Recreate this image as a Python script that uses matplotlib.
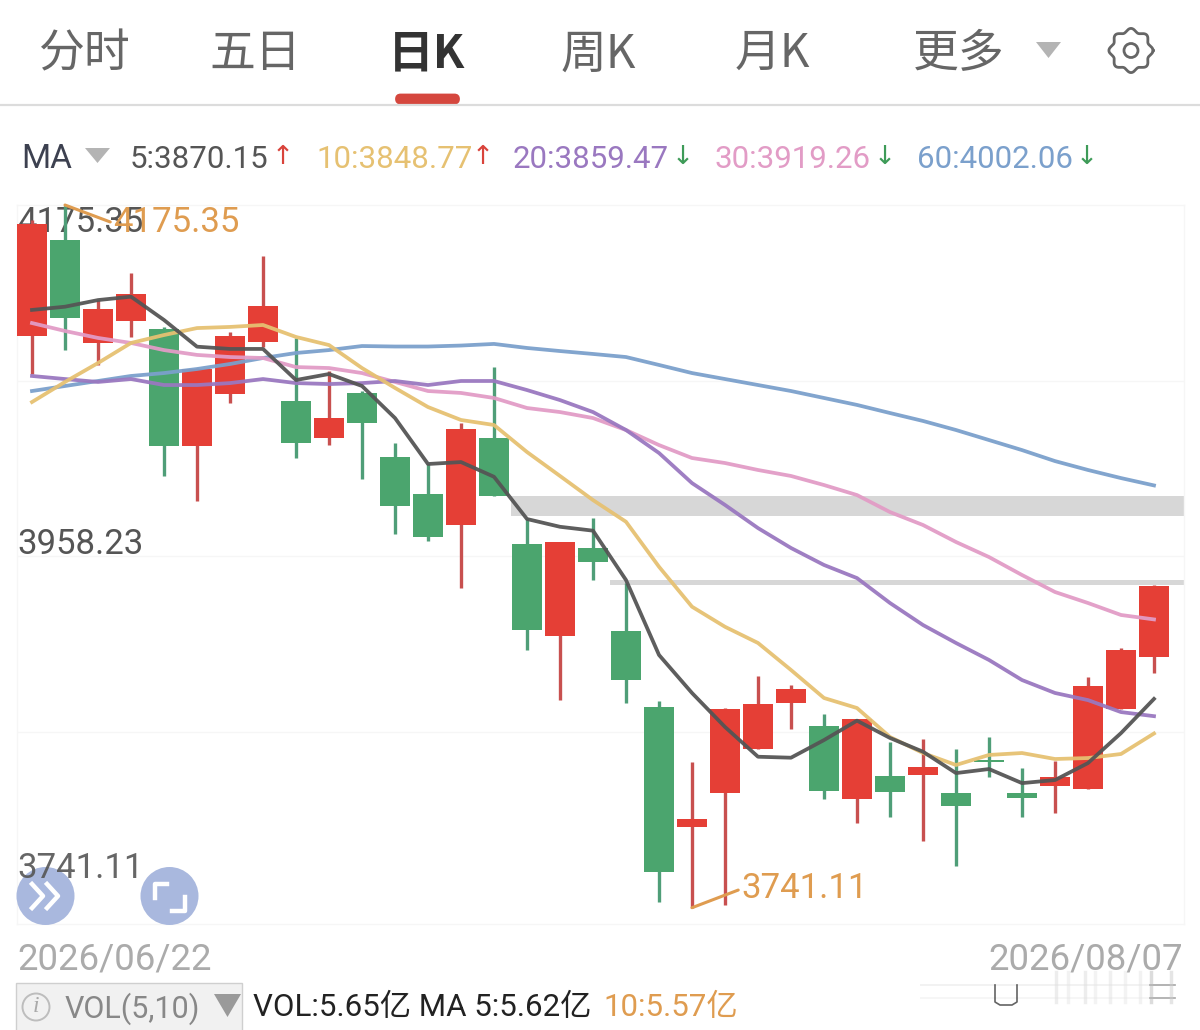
import numpy as np
import matplotlib
matplotlib.use("Agg")
import matplotlib.pyplot as plt
from matplotlib.patches import Rectangle, Polygon, Circle, FancyBboxPatch

# ---- data ----
opens = [4094.6,4153.7,4090.3,4103.9,4098.5,4026.6,4058.7,4090.9,4054.2,4031.5,4059.2,4019.4,3996.8,3977.8,4031.4,
         3965.9,3909.2,3963.4,3912.1,3864.9,3791.0,3812.2,3839.3,3867.8,3853.4,3808.3,3822.5,3823.1,3812.0,3832.4,
         3812.0,3816.5,3814.6,3863.9,3896.2]
closes = [4163.6,4105.7,4110.9,4120.4,4026.6,4074.0,4094.4,4112.9,4028.5,4043.7,4040.8,3989.5,3970.4,4036.9,3995.7,
          3912.9,3967.1,3954.9,3881.8,3763.3,3795.9,3863.9,3867.0,3876.1,3813.4,3857.7,3812.6,3828.0,3804.1,3831.1,
          3808.9,3821.9,3878.1,3900.3,3939.9]
highs = [4166.1,4175.35,4116.6,4133.3,4100.0,4074.6,4097.0,4143.8,4093.2,4072.8,4060.6,4028.1,4015.9,4040.6,4075.1,
         3981.9,3967.1,3981.9,3941.7,3868.8,3831.1,3864.5,3884.1,3878.7,3860.6,3857.7,3843.5,3845.2,3839.0,3846.6,
         3827.2,3831.7,3883.8,3901.6,3940.5]
lows = [4070.9,4085.7,4076.5,4093.8,4007.9,3992.6,4053.0,4087.8,4019.2,4027.2,4006.0,3971.8,3967.9,3938.8,3995.7,
        3900.3,3869.4,3943.8,3867.8,3744.8,3741.11,3742.9,3839.3,3851.7,3808.4,3793.2,3797.3,3782.5,3767.0,3822.0,
        3797.3,3799.4,3814.6,3863.9,3885.9]
ma5 = [4110.5,4112.5,4116.6,4118.7,4104.3,4087.8,4086.4,4086.4,4067.2,4070.9,4063.5,4043.7,4015.3,4016.5,4007.4,
       3981.3,3976.5,3974.1,3943.6,3897.3,3873.8,3852.8,3834.4,3833.8,3844.7,3856.7,3846.0,3837.5,3824.3,3826.8,
       3818.1,3820.0,3830.5,3849.0,3870.15]
ma10 = [4053.6,4066.0,4077.7,4090.1,4095.0,4099.3,4100.0,4101.2,4093.8,4088.8,4074.6,4062.3,4050.5,4042.5,4039.4,
        4022.7,4007.9,3993.0,3979.6,3951.8,3927.1,3914.7,3904.7,3888.0,3870.7,3864.5,3846.6,3836.7,3829.3,3835.5,
        3836.7,3833.0,3833.6,3836.1,3848.77]
ma20 = [4069.7,4067.8,4066.0,4067.8,4064.1,4064.1,4065.3,4067.8,4065.3,4064.7,4065.3,4066.6,4064.1,4066.6,4066.6,
        4061.0,4054.8,4047.4,4036.3,4022.1,4003.5,3990.0,3975.7,3963.4,3952.9,3944.8,3929.4,3915.8,3904.7,3894.2,
        3881.8,3873.8,3869.4,3862.0,3859.47]
ma30 = [4102.4,4097.5,4093.2,4090.1,4085.7,4082.7,4081.4,4080.8,4075.2,4074.6,4071.5,4066.0,4060.4,4059.2,4056.1,
        4049.9,4047.4,4043.7,4036.3,4027.0,4019.0,4015.9,4011.6,4007.9,4002.3,3996.1,3985.6,3977.6,3967.1,3957.8,
        3946.7,3936.2,3929.4,3922.0,3919.26]
ma60 = [4060.4,4063.5,4066.6,4069.7,4071.5,4074.0,4077.1,4080.8,4083.9,4085.7,4088.2,4087.9,4087.9,4088.5,4089.5,
        4087.0,4085.1,4083.3,4081.4,4076.5,4071.5,4067.8,4064.1,4060.4,4056.1,4051.8,4046.8,4041.9,4036.3,4030.1,
        4023.9,4017.1,4011.6,4006.6,4002.06]
gap_bands = [(14.5, 3983.2, 3995.5), (17.5, 3940.5, 3943.6)]
y_labels = ["4175.35", "3958.23", "3741.11"]
grid_levels = [4175.35, 4066.8, 3958.23, 3849.7, 3731.0]
tabs = ["分时", "五日", "日K", "周K", "月K", "更多"]
ma_labels = ["5:3870.15", "10:3848.77", "20:3859.47", "30:3919.26", "60:4002.06"]
ma_trend = ["↑", "↑", "↓", "↓", "↓"]

RED, GREEN = "#E53F36", "#4BA56E"
RED_W, GREEN_W = "#C8504F", "#4F9E78"
MA_COL = ["#555555", "#E6C172", "#9A78C0", "#E29CC6", "#7BA0CC"]
ORANGE = "#DF9C50"
NUM = ["Roboto", "DejaVu Sans"]
NUMCJK = ["Roboto", "Noto Sans CJK SC", "DejaVu Sans"]
CJK = ["Noto Sans CJK SC", "DejaVu Sans"]

W, H = 1200, 1030
fig = plt.figure(figsize=(W/100, H/100), dpi=100, facecolor="white")

ov_bg = fig.add_axes([0, 0, 1, 1], zorder=0); ov_bg.set_xlim(0, W); ov_bg.set_ylim(H, 0); ov_bg.axis("off")

# price panel
L, R, T, B = 17, 1184, 205, 924
ax = fig.add_axes([L/W, 1-B/H, (R-L)/W, (B-T)/H], zorder=1)
ax.patch.set_alpha(0)
ax.set_xlim((L-32)/33, (R-32)/33)
ax.set_ylim(3731.04, 4175.35)
ax.set_xticks([]); ax.set_yticks([])
for s in ax.spines.values():
    s.set_color("#f6f6f6"); s.set_linewidth(1)
for g in grid_levels[1:-1]:
    ax.axhline(g, color="#f6f6f6", lw=1, zorder=0)

ov = fig.add_axes([0, 0, 1, 1], zorder=2); ov.set_xlim(0, W); ov.set_ylim(H, 0); ov.axis("off"); ov.patch.set_alpha(0)

# y labels beneath candles
ov_bg.text(17, 223, y_labels[0], fontsize=25, color="#555555", family=NUM, va="center", ha="left")
ov_bg.text(17, 545, y_labels[1], fontsize=25, color="#555555", family=NUM, va="center", ha="left")

# gaps
xr = (R-32)/33
for x0, lo, hi in gap_bands:
    ax.add_patch(Rectangle((x0, lo), xr-x0, hi-lo, color="#D7D7D7", lw=0, zorder=1))

# candles
idx = np.arange(len(opens))
for i, o, c, h, l in zip(idx, opens, closes, highs, lows):
    up = c >= o
    ax.plot([i, i], [l, h], color=RED_W if up else GREEN_W, lw=2.4, zorder=2, solid_capstyle="butt", clip_on=False)
    ax.add_patch(Rectangle((i-0.455, min(o, c)), 0.91, abs(c-o), color=RED if up else GREEN, lw=0, zorder=3))

# moving averages
for vals, col in zip([ma60, ma30, ma20, ma10, ma5], MA_COL[::-1]):
    ax.plot(idx, vals, color=col, lw=2.7, zorder=4, solid_joinstyle="round", alpha=0.95)

# extreme labels
ax.annotate("4175.35", xy=(1, 4175.35), xytext=(113, 223), textcoords=ov.transData, annotation_clip=False,
            fontsize=25, color=ORANGE, family=NUM, va="center", ha="left", zorder=6,
            arrowprops=dict(arrowstyle="-", color=ORANGE, lw=2.2, shrinkA=0, shrinkB=0, relpos=(0, 0.5)))
ax.annotate("3741.11", xy=(20, 3741.11), xytext=(741, 889), textcoords=ov.transData, annotation_clip=False,
            fontsize=25, color=ORANGE, family=NUM, va="center", ha="left", zorder=6,
            arrowprops=dict(arrowstyle="-", color=ORANGE, lw=2.2, shrinkA=0, shrinkB=0, relpos=(0, 0.5)))

# tabs
tab_x = [39, 209, 388, 561, 735, 913]
for t, x in zip(tabs, tab_x):
    sel = t == "日K"
    ov.text(x, 54, t, fontsize=33, family=CJK, ha="left", va="center",
            color="#333333" if sel else "#666666", fontweight="bold" if sel else "normal")
ov.plot([0, W], [105, 105], color="#DCDCDC", lw=1.6)
ov.add_patch(FancyBboxPatch((396.5, 95), 62, 8, boxstyle="round,pad=0,rounding_size=4", fc="#D5473E", ec="#D5473E", lw=2))
ov.add_patch(Polygon([(1036, 42), (1061, 42), (1048.5, 58)], fc="#B4B4B4", lw=0))

# gear
th = np.linspace(0, 2*np.pi, 400)
rg = 20.3 + 1.8*np.cos(8*th)
ov.plot(1131 + rg*np.cos(th), 50.5 + rg*np.sin(th), color="#666666", lw=2)
ov.add_patch(Circle((1131, 50.5), 7, fc="none", ec="#666666", lw=2))

# MA legend
ov.text(21, 159, "MA", fontsize=24, family=NUM, color="#3d4150", va="center", ha="left")
ov.add_patch(Polygon([(85, 148), (110, 148), (97.5, 163)], fc="#B4B4B4", lw=0))
lx = [130, 316, 513, 714, 917]
ax_ = [283, 483, 683, 885, 1087]
for s, x, ar, axx, col in zip(ma_labels, lx, ma_trend, ax_, MA_COL):
    ov.text(x, 159, s, fontsize=22.5, family=NUM, color=col, va="center", ha="left")
    ov.text(axx, 157, ar, fontsize=19, family=["DejaVu Sans"], color="#D9433B" if ar == "↑" else "#3E9B58", va="center", ha="center")

# dates
ov.text(17, 959, "2026/06/22", fontsize=26.4, family=NUM, color="#ABABAB", va="center", ha="left")
ov.text(1183, 959, "2026/08/07", fontsize=26.4, family=NUM, color="#ABABAB", va="center", ha="right")

# floating buttons
for cx in (45.5, 169.5):
    ov.add_patch(Circle((cx, 896), 29, fc="#A9B8DE", lw=0))
ov.plot([32, 43, 32], [884, 896, 908], color="white", lw=3.2)
ov.plot([47, 58, 47], [884, 896, 908], color="white", lw=3.2)
ov.plot([155, 155, 167], [898, 884, 884], color="white", lw=3.2)
ov.plot([172, 185, 185], [911, 911, 897], color="white", lw=3.2)
ov.text(17, 868, y_labels[2], fontsize=25, color="#555555", family=NUM, va="center", ha="left", alpha=0.9)

# VOL box
ov.add_patch(Rectangle((16, 983), 226, 50, fc="#F1F1F1", ec="#CFCFCF", lw=1))
ov.add_patch(Circle((36, 1007), 13.5, fc="none", ec="#BDBDBD", lw=1.4))
ov.text(36, 1007, "i", fontsize=17, family=["Liberation Serif"], style="italic", color="#AAAAAA", ha="center", va="center")
ov.text(65, 1009, "VOL(5,10)", fontsize=22, family=NUM, color="#888888", va="center", ha="left")
ov.add_patch(Polygon([(214, 994), (241, 994), (227.5, 1017)], fc="#9A9A9A", lw=0))
ov.text(253, 1008, "VOL:5.65亿 MA 5:5.62亿", fontsize=22.5, family=NUMCJK, color="#222222", va="center", ha="left")
ov.text(603, 1008, "10:5.57亿", fontsize=22.5, family=NUMCJK, color=ORANGE, va="center", ha="left")

# faint smear over the bottom right
ov.add_patch(Rectangle((921, 971), 255, 47, fc="white", lw=0, alpha=0.8))
ov.plot([921, 1175], [985, 985], color="#F2F2F2", lw=1.4)
ov.plot([921, 1175], [998, 998], color="#F6F6F6", lw=1.4)
ov.plot([1150, 1175], [985, 985], color="#777777", lw=1.2, alpha=0.6)
ov.plot([1150, 1175], [998, 998], color="#777777", lw=1.2, alpha=0.6)
for sx, col in zip([1056, 1068, 1085, 1095, 1110, 1125, 1140, 1151, 1171],
                   ["#DDDDDD", "#E6E6E6", "#DDDDDD", "#E8E8E8", "#E2E2E2", "#E8E8E8", "#E6E6E6", "#BBBBBB", "#CCCCCC"]):
    ov.plot([sx, sx], [972, 1002], color=col, lw=2.5, alpha=0.5)
ov.plot([995, 995, 1000, 1012, 1017, 1017], [985, 1002, 1005, 1005, 1002, 985], color="#222222", lw=1.2, alpha=0.7)

fig.savefig("out.png", dpi=100)
